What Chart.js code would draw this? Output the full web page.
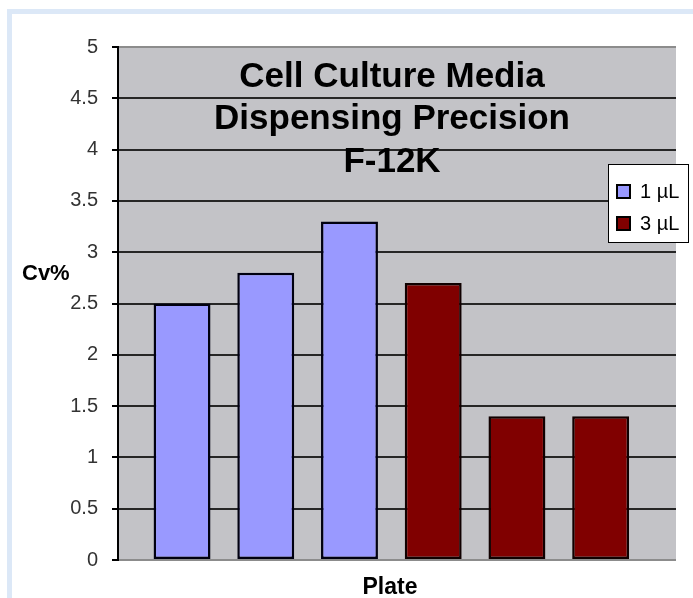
<!DOCTYPE html>
<html>
<head>
<meta charset="utf-8">
<script src="https://cdn.jsdelivr.net/npm/chart.js@4/dist/chart.umd.min.js"></script>
<style>
  html, body { margin: 0; padding: 0; background: #ffffff; overflow: hidden; }
  #frame {
    position: absolute; left: 7px; top: 9px; width: 720px; height: 620px;
    border: 5px solid #dce8f7; box-sizing: border-box;
  }
  #wrap { position: absolute; left: 0; top: 0; width: 693px; height: 598px; }
</style>
</head>
<body>
<div id="frame"></div>
<div id="wrap"><canvas id="chart"></canvas></div>
<script>
// Plate positions and Cv% for each dispensed volume
const plates1uL = [1, 2, 3];
const cv1uL = [2.5, 2.8, 3.3];
const plates3uL = [4, 5, 6];
const cv3uL = [2.7, 1.4, 1.4];

const seriesLabels = ['1 µL', '3 µL'];
const seriesColors = ['#9999ff', '#800000'];

const yTicks = [0, 0.5, 1, 1.5, 2, 2.5, 3, 3.5, 4, 4.5, 5];
const titleLines = ['Cell Culture Media', 'Dispensing Precision', 'F-12K'];
const xAxisTitle = 'Plate';
const yAxisTitle = 'Cv%';

const toPoints = (xs, ys) => xs.map((x, i) => ({ x: x, y: ys[i] }));
const allPlates = plates1uL.concat(plates3uL);

// Grey plot background
const plotBackground = {
  id: 'plotBackground',
  beforeDraw(chart) {
    const { ctx, chartArea: a } = chart;
    ctx.save();
    ctx.fillStyle = '#c3c3c7';
    ctx.fillRect(a.left, a.top, a.right - a.left, a.bottom - a.top);
    ctx.restore();
  }
};

// Title inside the plot, axis captions and boxed legend
const annotations = {
  id: 'annotations',
  afterDraw(chart) {
    const { ctx } = chart;
    ctx.save();
    ctx.fillStyle = '#000';
    ctx.textAlign = 'center';
    ctx.textBaseline = 'alphabetic';
    ctx.font = 'bold 35px "Liberation Sans", Arial, sans-serif';
    const titleBaselines = [87, 129, 172];
    titleLines.forEach((t, i) => ctx.fillText(t, 392, titleBaselines[i]));

    ctx.font = 'bold 23px "Liberation Sans", Arial, sans-serif';
    ctx.fillText(xAxisTitle, 390, 594);

    ctx.textAlign = 'left';
    ctx.font = 'bold 22px "Liberation Sans", Arial, sans-serif';
    ctx.fillText(yAxisTitle, 22, 280);

    // legend box
    ctx.fillStyle = '#ffffff';
    ctx.fillRect(608, 164, 81, 79);
    ctx.strokeStyle = '#000';
    ctx.lineWidth = 1;
    ctx.strokeRect(608.5, 164.5, 80, 78);
    const rows = [191, 223];
    chart.data.datasets.forEach((ds, i) => {
      const cy = rows[i];
      ctx.fillStyle = ds.backgroundColor;
      ctx.fillRect(617, cy - 6, 13, 13);
      ctx.lineWidth = 2;
      ctx.strokeStyle = '#000';
      ctx.strokeRect(617, cy - 6, 13, 13);
      ctx.fillStyle = '#000';
      ctx.font = '20px "Liberation Sans", Arial, sans-serif';
      ctx.textBaseline = 'middle';
      ctx.fillText(ds.label, 640, cy + 1);
    });
    ctx.restore();
  }
};

new Chart(document.getElementById('chart'), {
  type: 'bar',
  data: {
    datasets: [
      {
        label: seriesLabels[0],
        data: toPoints(plates1uL, cv1uL),
        backgroundColor: seriesColors[0],
        borderColor: '#000010',
        borderWidth: 2.5,
        borderSkipped: false
      },
      {
        label: seriesLabels[1],
        data: toPoints(plates3uL, cv3uL),
        backgroundColor: seriesColors[1],
        borderColor: '#100000',
        borderWidth: 2.5,
        borderSkipped: false
      }
    ]
  },
  options: {
    responsive: true,
    maintainAspectRatio: false,
    animation: false,
    grouped: false,
    barPercentage: 0.68,
    categoryPercentage: 1,
    layout: { padding: { left: 0, top: 47, right: 17, bottom: 38 } },
    plugins: {
      legend: { display: false },
      title: { display: false },
      tooltip: { enabled: false }
    },
    scales: {
      x: {
        type: 'linear',
        display: false,
        offset: false,
        min: 0.235,
        max: 6.9,
        afterBuildTicks(scale) {
          scale.ticks = allPlates.map(v => ({ value: v }));
        }
      },
      y: {
        min: 0,
        max: 5,
        afterBuildTicks(scale) {
          scale.ticks = yTicks.map(v => ({ value: v }));
        },
        afterFit(scale) { scale.width = 118; },
        ticks: {
          padding: 14,
          color: '#333',
          font: { family: '"Liberation Sans", Arial, sans-serif', size: 20 },
          callback: v => String(v)
        },
        grid: {
          color: c => (c.tick && (c.tick.value === 5 || c.tick.value === 0)) ? '#8c8c8c' : '#262626',
          tickColor: '#000',
          lineWidth: 2,
          tickLength: 6
        },
        border: { display: true, color: '#000', width: 2 }
      }
    }
  },
  plugins: [plotBackground, annotations]
});
</script>
</body>
</html>
